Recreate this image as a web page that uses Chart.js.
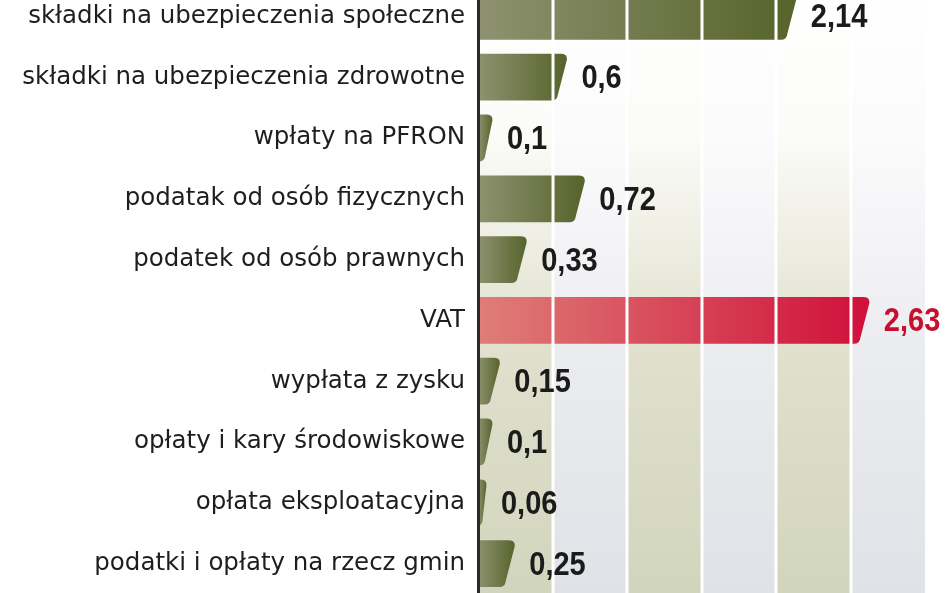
<!DOCTYPE html>
<html lang="pl">

<head>
    <meta charset="UTF-8">
    <title>Wpływy</title>
    <script src="https://cdn.jsdelivr.net/npm/chart.js"></script>
    <style>
        html, body { margin: 0; padding: 0; background: #fff; overflow: hidden; }
        .chart-box { position: absolute; left: 0; top: -14px; width: 948px; height: 608px; }
    </style>
</head>

<body>
    <div class="chart-box">
        <canvas id="taxChart"></canvas>
    </div>
    <script>
        // categories and values (mld zł)
        const categories = [
            'składki na ubezpieczenia społeczne',
            'składki na ubezpieczenia zdrowotne',
            'wpłaty na PFRON',
            'podatak od osób fizycznych',
            'podatek od osób prawnych',
            'VAT',
            'wypłata z zysku',
            'opłaty i kary środowiskowe',
            'opłata eksploatacyjna',
            'podatki i opłaty na rzecz gmin'
        ];
        const values = [2.14, 0.6, 0.1, 0.72, 0.33, 2.63, 0.15, 0.1, 0.06, 0.25];
        const valueLabels = ['2,14', '0,6', '0,1', '0,72', '0,33', '2,63', '0,15', '0,1', '0,06', '0,25'];
        const highlight = 'VAT';
        const bandSteps = [0, 0.5, 1, 1.5, 2, 2.5, 3];

        // background bands, slanted bars, white separators and value labels
        const barsPlugin = {
            id: 'barsPlugin',
            beforeDatasetsDraw(chart) {
                const ctx = chart.ctx;
                const x = chart.scales.x;
                const top = chart.chartArea.top;
                const bottom = chart.chartArea.bottom;
                for (let i = 0; i < bandSteps.length - 1; i++) {
                    const x0 = x.getPixelForValue(bandSteps[i]);
                    const x1 = x.getPixelForValue(bandSteps[i + 1]);
                    const g = ctx.createLinearGradient(0, top, 0, bottom);
                    if (i % 2 === 0) {
                        g.addColorStop(0, '#ffffff');
                        g.addColorStop(0.25, '#fbfbf8');
                        g.addColorStop(0.6, '#e0e0cd');
                        g.addColorStop(1, '#d2d5bd');
                    } else {
                        g.addColorStop(0, '#ffffff');
                        g.addColorStop(0.25, '#fbfbfc');
                        g.addColorStop(0.6, '#ebecf0');
                        g.addColorStop(1, '#dfe2e6');
                    }
                    ctx.fillStyle = g;
                    ctx.fillRect(x0, top, x1 - x0, bottom - top);
                }
            },
            afterDatasetsDraw(chart) {
                const ctx = chart.ctx;
                const meta = chart.getDatasetMeta(0);
                meta.data.forEach((bar, i) => {
                    const h = bar.height;
                    const y0 = bar.y - h / 2;
                    const y1 = bar.y + h / 2;
                    const left = bar.base;
                    const right = bar.x;
                    const slant = Math.min(10, (right - left) * 0.55);
                    const r = 6;
                    const g = ctx.createLinearGradient(left, 0, right, 0);
                    if (categories[i] === highlight) {
                        g.addColorStop(0, '#df7e78');
                        g.addColorStop(1, '#d0103a');
                    } else {
                        g.addColorStop(0, '#8e9270');
                        g.addColorStop(1, '#56632a');
                    }
                    ctx.save();
                    ctx.fillStyle = g;
                    ctx.beginPath();
                    ctx.moveTo(left, y0);
                    ctx.lineTo(right - r, y0);
                    ctx.quadraticCurveTo(right, y0, right - 0.5, y0 + r);
                    ctx.lineTo(right - slant + 0.5, y1 - r);
                    ctx.quadraticCurveTo(right - slant, y1, right - slant - r, y1);
                    ctx.lineTo(left, y1);
                    ctx.closePath();
                    ctx.fill();
                    ctx.restore();
                });

                // white separators over the bars
                const x = chart.scales.x;
                ctx.save();
                ctx.strokeStyle = '#ffffff';
                ctx.lineWidth = 3;
                for (let i = 1; i < bandSteps.length - 1; i++) {
                    const px = Math.round(x.getPixelForValue(bandSteps[i]));
                    ctx.beginPath();
                    ctx.moveTo(px, chart.chartArea.top);
                    ctx.lineTo(px, chart.chartArea.bottom);
                    ctx.stroke();
                }
                ctx.restore();

                // value labels, bold and a bit condensed
                meta.data.forEach((bar, i) => {
                    ctx.save();
                    ctx.translate(bar.x + 14, bar.y + 2);
                    ctx.scale(0.88, 1);
                    ctx.font = 'bold 33px "Liberation Sans", sans-serif';
                    ctx.textBaseline = 'middle';
                    ctx.textAlign = 'left';
                    ctx.fillStyle = categories[i] === highlight ? '#c8102e' : '#1b1b1b';
                    ctx.fillText(valueLabels[i], 0, 0);
                    ctx.restore();
                });
            }
        };

        const ctx = document.getElementById('taxChart').getContext('2d');
        new Chart(ctx, {
            type: 'bar',
            data: {
                labels: categories,
                datasets: [{
                    data: values,
                    backgroundColor: 'rgba(0,0,0,0)',
                    borderWidth: 0,
                    barPercentage: 0.77,
                    categoryPercentage: 1
                }]
            },
            options: {
                indexAxis: 'y',
                responsive: true,
                maintainAspectRatio: false,
                animation: false,
                layout: { padding: { left: 0, right: 23, top: 0, bottom: 0 } },
                plugins: {
                    legend: { display: false },
                    tooltip: { enabled: false }
                },
                scales: {
                    x: {
                        min: 0,
                        max: 3,
                        display: false
                    },
                    y: {
                        afterFit: scale => {
                            scale.width = 478;
                            scale.paddingTop = 0;
                            scale.paddingBottom = 0;
                        },
                        grid: { display: false, drawTicks: false },
                        border: { display: true, color: '#2a2a2a', width: 3, z: 2 },
                        ticks: {
                            color: '#1e1e1e',
                            padding: 13,
                            font: { family: '"DejaVu Sans", sans-serif', size: 24.5 }
                        }
                    }
                }
            },
            plugins: [barsPlugin]
        });
    </script>
</body>

</html>
